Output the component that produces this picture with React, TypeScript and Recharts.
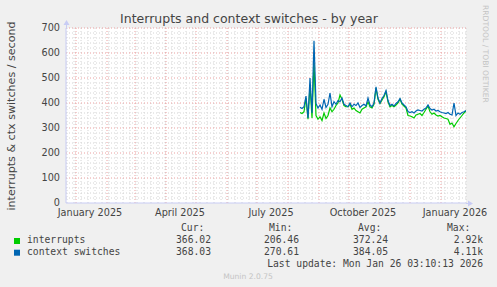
import React from 'react';
import { LineChart, Line, XAxis, YAxis, ReferenceLine, ReferenceArea } from 'recharts';

// x axis unit: days since 2024-12-22 (graph spans 400 days, ending 2026-01-26)
const firstDataDay = 234; // 2025-08-13, one sample every 2 days
const contextSwitches = [
  383, 378, 385, 428, 340, 500, 360, 649, 398, 380,
  392, 375, 415, 382, 395, 440, 385, 405, 395, 410,
  405, 420, 395, 390, 385, 400, 385, 395, 390, 400,
  382, 390, 395, 388, 420, 392, 385, 400, 465, 420,
  400, 418, 430, 450, 410, 390, 395, 388, 398, 405,
  418, 400, 392, 385, 366, 362, 365, 360, 368, 372,
  370, 368, 375, 380, 392, 378, 372, 375, 368, 370,
  365, 362, 360, 358, 362, 355, 352, 400, 350, 360,
  355, 362, 365, 370,
];
const interrupts = [
  362, 358, 365, 420, 335, 470, 340, 560, 350, 335,
  345, 330, 360, 338, 350, 380, 365, 375, 390, 400,
  432, 415, 390, 385, 385, 395, 375, 380, 370, 365,
  360, 375, 380, 385, 405, 385, 380, 395, 460, 415,
  398, 412, 425, 445, 405, 385, 390, 385, 392, 400,
  415, 395, 388, 380, 350, 348, 345, 340, 352, 355,
  358, 350, 362, 375, 388, 365, 355, 360, 352, 348,
  350, 345, 340, 338, 335, 315, 320, 305, 318, 330,
  340, 350, 360, 368,
];

const xTickDays = [24, 114, 205, 297, 389];
const xTickLabels = ['January 2025', 'April 2025', 'July 2025', 'October 2025', 'January 2026'];
const monthStartDays = [10, 41, 69, 100, 130, 161, 191, 222, 253, 283, 314, 344, 375];
const yTicks = [0, 100, 200, 300, 400, 500, 600, 700];

const legendNames = ['interrupts', 'context switches'];
const legendColors = ['#00cc00', '#0066b3'];
const curValues = ['366.02', '368.03'];
const minValues = ['206.46', '270.61'];
const avgValues = ['372.24', '384.05'];
const maxValues = ['2.92k', '4.11k'];

const rows = contextSwitches.map((c, i) => ({
  day: firstDataDay + i * 2,
  ctx: c,
  irq: interrupts[i],
}));

const weekDays: number[] = [];
for (let d = 1; d <= 400; d += 7) if (!monthStartDays.includes(d)) weekDays.push(d);
const minorY: number[] = [];
for (let v = 20; v < 700; v += 20) if (v % 100 !== 0) minorY.push(v);

const SANS = 'DejaVu Sans, sans-serif';
const MONO = 'DejaVu Sans Mono, monospace';
const TXT = '#444';
const MINOR = '#d4d4d4';
const MAJOR = '#eaa0a0';
const AXIS = '#c8ccf4';

export default function App() {
  return (
    <div style={{ position: 'fixed', left: 0, top: 0, width: 497, height: 287, background: '#f0f0f0', overflow: 'hidden' }}>
      <LineChart width={497} height={287} data={rows} margin={{ top: 28, right: 31, bottom: 64, left: 0 }}>
        <ReferenceArea x1={0} x2={400} y1={0} y2={700} fill="#ffffff" fillOpacity={1} stroke="none" />
        {minorY.map((v) => (
          <ReferenceLine key={'my' + v} y={v} stroke={MINOR} strokeDasharray="1 2" />
        ))}
        {weekDays.map((d) => (
          <ReferenceLine key={'wx' + d} x={d} stroke={MINOR} strokeDasharray="1 2" />
        ))}
        {yTicks.slice(1).map((v) => (
          <ReferenceLine key={'My' + v} y={v} stroke={MAJOR} strokeDasharray="1 2" />
        ))}
        {monthStartDays.map((d) => (
          <ReferenceLine key={'Mx' + d} x={d} stroke={MAJOR} strokeDasharray="1 2" />
        ))}
        <XAxis
          type="number"
          dataKey="day"
          domain={[0, 400]}
          ticks={xTickDays}
          tickFormatter={(d: number) => xTickLabels[xTickDays.indexOf(d)]}
          interval={0}
          height={20}
          tickSize={0}
          tickMargin={6}
          axisLine={{ stroke: AXIS }}
          tick={{ fill: TXT, fontSize: 9.7, fontFamily: SANS }}
          allowDataOverflow
        />
        <YAxis
          type="number"
          domain={[0, 700]}
          ticks={yTicks}
          interval={0}
          width={66}
          tickSize={0}
          tickMargin={6}
          axisLine={{ stroke: AXIS }}
          tick={{ fill: TXT, fontSize: 9.7, fontFamily: SANS }}
        />
        <Line type="linear" dataKey="irq" stroke="#00cc00" strokeWidth={1.2} dot={false} isAnimationActive={false} />
        <Line type="linear" dataKey="ctx" stroke="#0066b3" strokeWidth={1.2} dot={false} isAnimationActive={false} />
      </LineChart>
      <svg width={497} height={287} style={{ position: 'absolute', left: 0, top: 0, pointerEvents: 'none' }}>
        <line x1={466} y1={203.5} x2={469} y2={203.5} stroke={AXIS} />
        <polygon points="468,200.5 473,203.5 468,206.5" fill={AXIS} />
        <line x1={66.5} y1={28} x2={66.5} y2={24} stroke={AXIS} />
        <polygon points="63.5,25 66.5,20 69.5,25" fill={AXIS} />
        <text x={249} y={22.5} textAnchor="middle" fontSize={12.5} fontFamily={SANS} fill={TXT}>
          Interrupts and context switches - by year
        </text>
        <text transform="translate(14.5,116) rotate(-90)" textAnchor="middle" fontSize={11.1} fontFamily={SANS} fill={TXT}>
          interrupts &amp; ctx switches / second
        </text>
        <text transform="translate(482.5,5) rotate(90)" textAnchor="start" fontSize={7.6} fontFamily={SANS} fill="#c4c4c4">
          RRDTOOL / TOBI OETIKER
        </text>
        <g fontFamily={MONO} fontSize={9.7} fill={TXT}>
          <text x={181} y={231.3}>Cur:</text>
          <text x={269} y={231.3}>Min:</text>
          <text x={358} y={231.3}>Avg:</text>
          <text x={447} y={231.3}>Max:</text>
          {legendNames.map((n, i) => (
            <g key={n}>
              <rect x={14} y={238 + i * 11.7} width={6} height={6} fill={legendColors[i]} />
              <text x={27} y={243 + i * 11.7}>{n}</text>
              <text x={211} y={243 + i * 11.7} textAnchor="end">{curValues[i]}</text>
              <text x={299} y={243 + i * 11.7} textAnchor="end">{minValues[i]}</text>
              <text x={388} y={243 + i * 11.7} textAnchor="end">{avgValues[i]}</text>
              <text x={483} y={243 + i * 11.7} textAnchor="end">{maxValues[i]}</text>
            </g>
          ))}
          <text x={483} y={266.5} textAnchor="end">Last update: Mon Jan 26 03:10:13 2026</text>
        </g>
        <text x={248} y={279} textAnchor="middle" fontSize={7.6} fontFamily={SANS} fill="#c4c4c4">
          Munin 2.0.75
        </text>
      </svg>
    </div>
  );
}
